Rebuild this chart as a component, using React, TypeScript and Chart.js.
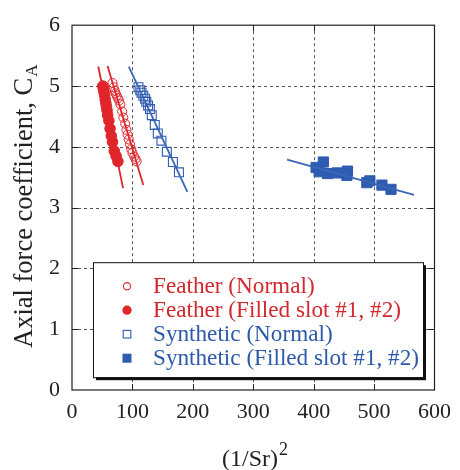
import React, { useEffect, useRef } from 'react';
import { Chart, registerables } from 'chart.js';

Chart.register(...registerables);

// ---------- data ----------
const featherNormalX = [67, 69, 71, 72, 74, 76, 78, 80, 83, 85, 88, 90, 92, 94, 96, 98, 100, 103, 105, 107];
const featherNormalY = [5.05, 4.98, 4.92, 4.88, 4.84, 4.8, 4.76, 4.7, 4.58, 4.48, 4.38, 4.28, 4.2, 4.12, 4.04, 3.96, 3.9, 3.84, 3.8, 3.76];

const featherFilledX = [51, 52, 53, 54, 55, 56, 57, 58, 59, 61, 63, 65, 67, 70, 73, 76];
const featherFilledY = [5.0, 4.95, 4.9, 4.85, 4.78, 4.72, 4.66, 4.6, 4.52, 4.43, 4.3, 4.18, 4.08, 3.93, 3.85, 3.76];

const synthNormalX = [110, 113, 115, 118, 121, 123, 126, 129, 132, 137, 142, 148, 157, 167, 177];
const synthNormalY = [4.98, 4.93, 4.89, 4.84, 4.79, 4.74, 4.68, 4.62, 4.52, 4.36, 4.22, 4.1, 3.92, 3.75, 3.58];

const synthFilledX = [404, 409, 416, 423, 439, 455, 456, 488, 493, 513, 528];
const synthFilledY = [3.66, 3.59, 3.75, 3.56, 3.57, 3.53, 3.6, 3.41, 3.44, 3.37, 3.3];

const featherNormalFitX = [58.8, 118];
const featherNormalFitY = [5.33, 3.37];
const featherFilledFitX = [43.5, 84.5];
const featherFilledFitY = [5.32, 3.32];
const synthNormalFitX = [94, 191];
const synthNormalFitY = [5.32, 3.26];
const synthFilledFitX = [356, 566];
const synthFilledFitY = [3.79, 3.21];

const xTicks = [0, 100, 200, 300, 400, 500, 600];
const yTicks = [0, 1, 2, 3, 4, 5, 6];

const legendLabels = [
  'Feather (Normal)',
  'Feather (Filled slot #1, #2)',
  'Synthetic (Normal)',
  'Synthetic (Filled slot #1, #2)',
];
const yTitle = 'Axial force coefficient, C';
const yTitleSub = 'A';
const xTitle = '(1/Sr)';
const xTitleSup = '2';

// ---------- styles ----------
const FONT = "'Liberation Serif', 'Times New Roman', serif";
const RED = '#e0262b';
const BLUE = '#2f5cb0';
const RED_TEXT = '#d2282e';
const BLUE_TEXT = '#2d5aa8';
const TEXT = '#222';

const pts = (xs: number[], ys: number[]) => xs.map((x, i) => ({ x, y: ys[i] }));

const decorPlugin = {
  id: 'decor',
  beforeDatasetsDraw(chart: any) {
    const { ctx, chartArea: a, scales } = chart;
    const x = scales.x;
    const y = scales.y;
    ctx.save();
    ctx.strokeStyle = '#555';
    ctx.lineWidth = 1;
    ctx.setLineDash([3, 3]);
    xTicks.slice(1, -1).forEach((v) => {
      const px = Math.round(x.getPixelForValue(v)) + 0.5;
      ctx.beginPath();
      ctx.moveTo(px, a.top);
      ctx.lineTo(px, a.bottom);
      ctx.stroke();
    });
    yTicks.slice(1, -1).forEach((v) => {
      const py = Math.round(y.getPixelForValue(v)) + 0.5;
      ctx.beginPath();
      ctx.moveTo(a.left, py);
      ctx.lineTo(a.right, py);
      ctx.stroke();
    });
    ctx.restore();
  },
  afterDatasetsDraw(chart: any) {
    const { ctx, chartArea: a, scales } = chart;
    const x = scales.x;
    const y = scales.y;
    ctx.save();
    // frame
    ctx.strokeStyle = '#222';
    ctx.lineWidth = 1.2;
    ctx.setLineDash([]);
    ctx.strokeRect(a.left, a.top, a.right - a.left, a.bottom - a.top);
    // inner ticks
    const tl = 6;
    ctx.lineWidth = 1;
    xTicks.slice(1, -1).forEach((v) => {
      const px = Math.round(x.getPixelForValue(v)) + 0.5;
      ctx.beginPath();
      ctx.moveTo(px, a.bottom);
      ctx.lineTo(px, a.bottom - tl);
      ctx.moveTo(px, a.top);
      ctx.lineTo(px, a.top + tl);
      ctx.stroke();
    });
    yTicks.slice(1, -1).forEach((v) => {
      const py = Math.round(y.getPixelForValue(v)) + 0.5;
      ctx.beginPath();
      ctx.moveTo(a.left, py);
      ctx.lineTo(a.left + tl, py);
      ctx.moveTo(a.right, py);
      ctx.lineTo(a.right - tl, py);
      ctx.stroke();
    });

    // legend box
    const bx = a.left + 21;
    const by = a.top + 237;
    const bw = 330;
    const bh = 115;
    ctx.fillStyle = '#111';
    ctx.fillRect(bx + 3, by + 3, bw, bh);
    ctx.fillStyle = '#fff';
    ctx.fillRect(bx, by, bw, bh);
    ctx.strokeStyle = '#111';
    ctx.lineWidth = 1;
    ctx.strokeRect(bx + 0.5, by + 0.5, bw, bh);

    const mx = bx + 34;
    const tx = bx + 60;
    const baselines = [by + 31, by + 55, by + 79, by + 103];
    ctx.font = `23.2px ${FONT}`;
    ctx.textAlign = 'left';
    ctx.textBaseline = 'alphabetic';
    legendLabels.forEach((lab, i) => {
      const bl = baselines[i];
      const cy = bl - 7;
      const col = i < 2 ? RED : BLUE;
      ctx.strokeStyle = col;
      ctx.fillStyle = col;
      ctx.lineWidth = 1.1;
      if (i === 0) {
        ctx.beginPath();
        ctx.arc(mx, cy, 3.6, 0, Math.PI * 2);
        ctx.stroke();
      } else if (i === 1) {
        ctx.beginPath();
        ctx.arc(mx, cy, 4.6, 0, Math.PI * 2);
        ctx.fill();
      } else if (i === 2) {
        ctx.strokeRect(mx - 3.8, cy - 3.8, 7.6, 7.6);
      } else {
        ctx.fillRect(mx - 4.5, cy - 4.5, 9, 9);
      }
      ctx.fillStyle = i < 2 ? RED_TEXT : BLUE_TEXT;
      ctx.fillText(lab, tx, bl);
    });

    // y title
    ctx.fillStyle = TEXT;
    ctx.save();
    ctx.translate(32, 348);
    ctx.rotate(-Math.PI / 2);
    ctx.font = `26.5px ${FONT}`;
    ctx.fillText(yTitle, 0, 0);
    const w = ctx.measureText(yTitle).width;
    ctx.font = `17px ${FONT}`;
    ctx.fillText(yTitleSub, w + 1, 5);
    ctx.restore();

    // x title
    ctx.font = `24px ${FONT}`;
    const xtx = 222;
    ctx.fillText(xTitle, xtx, 466);
    const w2 = ctx.measureText(xTitle).width;
    ctx.font = `18px ${FONT}`;
    ctx.fillText(xTitleSup, xtx + w2 + 1, 455);
    ctx.restore();
  },
};

export default function App() {
  const ref = useRef<HTMLCanvasElement | null>(null);

  useEffect(() => {
    if (!ref.current) return;
    const chart = new Chart(ref.current, {
      type: 'scatter',
      data: {
        datasets: [
          {
            type: 'line',
            data: pts(featherNormalFitX, featherNormalFitY),
            borderColor: RED,
            borderWidth: 1.8,
            pointRadius: 0,
            order: 0,
          },
          {
            type: 'line',
            data: pts(featherFilledFitX, featherFilledFitY),
            borderColor: RED,
            borderWidth: 1.8,
            pointRadius: 0,
            order: 0,
          },
          {
            type: 'line',
            data: pts(synthNormalFitX, synthNormalFitY),
            borderColor: '#3a66b8',
            borderWidth: 1.8,
            pointRadius: 0,
            order: 0,
          },
          {
            type: 'line',
            data: pts(synthFilledFitX, synthFilledFitY),
            borderColor: '#3a66b8',
            borderWidth: 1.8,
            pointRadius: 0,
            order: 0,
          },
          {
            data: pts(featherNormalX, featherNormalY),
            pointStyle: 'circle',
            pointRadius: 4.5,
            backgroundColor: 'rgba(255,255,255,0)',
            borderColor: RED,
            borderWidth: 1,
            order: 1,
          },
          {
            data: pts(featherFilledX, featherFilledY),
            pointStyle: 'circle',
            pointRadius: 5.3,
            backgroundColor: RED,
            borderColor: RED,
            borderWidth: 1,
            order: 1,
          },
          {
            data: pts(synthNormalX, synthNormalY),
            pointStyle: 'rect',
            pointRadius: 6.3,
            backgroundColor: 'rgba(255,255,255,0)',
            borderColor: BLUE,
            borderWidth: 1.1,
            order: 1,
          },
          {
            data: pts(synthFilledX, synthFilledY),
            pointStyle: 'rect',
            pointRadius: 7.2,
            backgroundColor: BLUE,
            borderColor: BLUE,
            borderWidth: 1,
            order: 1,
          },
        ],
      } as any,
      options: {
        animation: false,
        responsive: false,
        devicePixelRatio: 1,
        events: [],
        layout: { padding: { top: 22, right: 17, left: 0, bottom: 0 } },
        plugins: { legend: { display: false }, tooltip: { enabled: false } },
        scales: {
          x: {
            type: 'linear',
            min: 0,
            max: 600,
            afterFit: (s: any) => {
              s.height = 80;
            },
            afterBuildTicks: (s: any) => {
              s.ticks = xTicks.map((v) => ({ value: v }));
            },
            grid: { display: false, drawTicks: false },
            border: { display: false },
            ticks: {
              padding: 9,
              color: TEXT,
              font: { family: FONT, size: 22 },
            },
          },
          y: {
            type: 'linear',
            min: 0,
            max: 6,
            afterFit: (s: any) => {
              s.width = 72;
            },
            afterBuildTicks: (s: any) => {
              s.ticks = yTicks.map((v) => ({ value: v }));
            },
            grid: { display: false, drawTicks: false },
            border: { display: false },
            ticks: {
              padding: 12,
              color: TEXT,
              font: { family: FONT, size: 22 },
            },
          },
        },
      } as any,
      plugins: [decorPlugin],
    });
    return () => chart.destroy();
  }, []);

  return (
    <div style={{ position: 'absolute', left: 0, top: 0, width: 460, height: 470 }}>
      <canvas ref={ref} width={460} height={470} />
    </div>
  );
}
